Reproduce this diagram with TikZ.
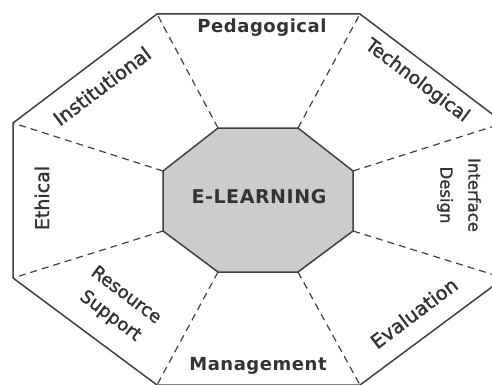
\documentclass[tikz,border=0pt]{standalone}
\usepackage{fontspec}
\setmainfont{DejaVu Sans}
\newfontfamily\labfont[LetterSpace=3]{DejaVu Sans}
\newfontfamily\semfont[FakeBold=1.5]{DejaVu Sans}
\begin{document}
\begin{tikzpicture}[x=1pt,y=-1pt,
  edge/.style={draw=black!75,line width=1.5pt,line join=miter},
  spoke/.style={draw=black!75,line width=1.2pt,dash pattern=on 7pt off 5pt},
  lab/.style={text=black!80,font=\labfont\bfseries\fontsize{18}{26}\selectfont,align=center,inner sep=0pt},
  labr/.style={text=black!80,align=center,inner sep=0pt}]
\useasboundingbox (0,0) rectangle (492,385);
\begin{scope}
\clip (0,0) rectangle (492,385);
% outer vertices
\coordinate (O1) at (157,14);
\coordinate (O2) at (360,14);
\coordinate (O3) at (504,123);
\coordinate (O4) at (504,278);
\coordinate (O5) at (360,385);
\coordinate (O6) at (157,385);
\coordinate (O7) at (13,278);
\coordinate (O8) at (13,123);
% inner vertices
\coordinate (I1) at (218,128);
\coordinate (I2) at (298,128);
\coordinate (I3) at (353,171);
\coordinate (I4) at (353,231);
\coordinate (I5) at (298,272);
\coordinate (I6) at (218,272);
\coordinate (I7) at (163,231);
\coordinate (I8) at (163,171);
\draw[edge] (O1)--(O2)--(O3)--(O4)--(O5)--(O6)--(O7)--(O8)--cycle;
\foreach \k in {1,...,8}{\draw[spoke] (I\k)--(O\k);}
\filldraw[edge,fill=black!20] (I1)--(I2)--(I3)--(I4)--(I5)--(I6)--(I7)--(I8)--cycle;
\end{scope}
\node[lab,font=\labfont\bfseries\fontsize{19}{22}\selectfont] (center) at (259,197) {E-LEARNING};
\node[lab] (ped) at (262,28) {Pedagogical};
\node[labr,font=\semfont\fontsize{18.5}{26}\selectfont,rotate=-37] (tech) at (417,81) {Technological};
\node[labr,font=\semfont\fontsize{16.5}{28}\selectfont,rotate=-90] (int) at (459,195) {Interface\\Design};
\node[labr,font=\semfont\fontsize{19.5}{26}\selectfont,rotate=37] (eval) at (414,313) {Evaluation};
\node[lab] (man) at (258,366) {Management};
\node[labr,font=\semfont\fontsize{18}{26}\selectfont,rotate=-37] (res) at (118,306) {Resource\\Support};
\node[labr,font=\semfont\fontsize{19}{26}\selectfont,rotate=90] (eth) at (42,198) {Ethical};
\node[labr,font=\semfont\fontsize{19.5}{26}\selectfont,rotate=37] (inst) at (102,86) {Institutional};
\end{tikzpicture}
\end{document}
